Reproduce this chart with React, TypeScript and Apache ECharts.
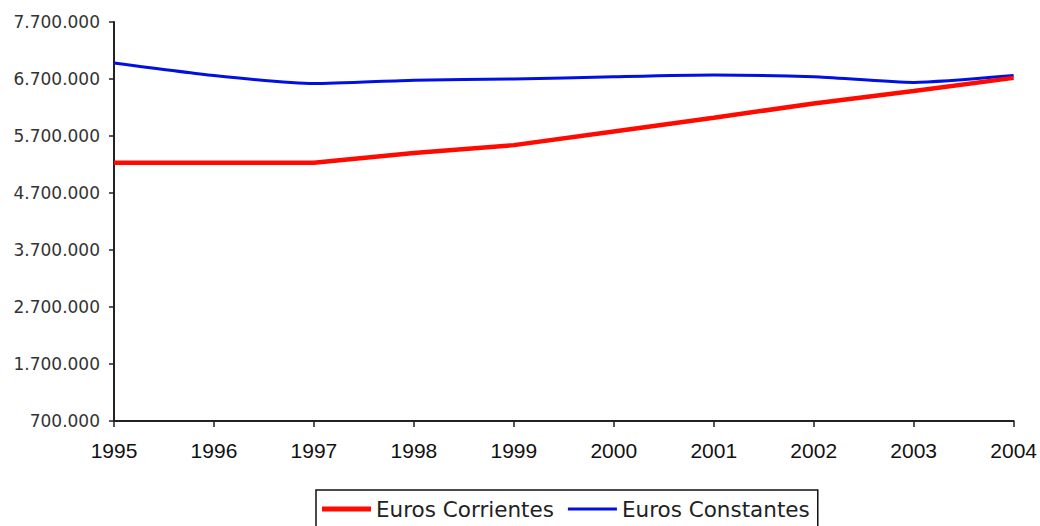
import React, { useEffect, useRef } from "react";
import * as echarts from "echarts";

const years = ["1995", "1996", "1997", "1998", "1999", "2000", "2001", "2002", "2003", "2004"];
const eurosCorrientes = [5230000, 5230000, 5230000, 5400000, 5540000, 5780000, 6020000, 6270000, 6490000, 6720000];
const eurosConstantes = [6980000, 6760000, 6620000, 6680000, 6700000, 6740000, 6770000, 6740000, 6640000, 6760000];
const yTicks = [700000, 1700000, 2700000, 3700000, 4700000, 5700000, 6700000, 7700000];

const fmt = (v: number) => String(Math.round(v)).replace(/\B(?=(\d{3})+(?!\d))/g, ".");

export default function App() {
  const ref = useRef<HTMLDivElement>(null);
  useEffect(() => {
    document.body.style.margin = "0";
    const chart = echarts.init(ref.current!, null, { renderer: "svg" });
    chart.setOption({
      animation: false,
      backgroundColor: "#ffffff",
      grid: { left: 114, right: 25, top: 22, bottom: 105 },
      legend: {
        left: 316,
        top: 490,
        itemWidth: 49,
        itemHeight: 14,
        itemGap: 14,
        symbolKeepAspect: true,
        padding: [8, 8, 20, 6],
        borderColor: "#111",
        borderWidth: 1.5,
        textStyle: { fontFamily: "DejaVu Sans", fontSize: 21.5, color: "#222" },
        data: [
          { name: "Euros Corrientes", icon: "path://M0,0H49V5H0Z", itemStyle: { color: "#ff0a00" } },
          { name: "Euros Constantes", icon: "path://M0,0H49V3H0Z", itemStyle: { color: "#0010e0" } },
        ],
      },
      xAxis: {
        type: "category",
        data: years,
        boundaryGap: false,
        axisLine: { lineStyle: { color: "#222", width: 2 } },
        axisTick: { alignWithLabel: true, length: 6, lineStyle: { color: "#222", width: 1.5 } },
        axisLabel: {
          interval: 0,
          margin: 19,
          fontFamily: "Liberation Sans, Arial",
          fontSize: 21,
          color: "#111",
        },
        splitLine: { show: false },
      },
      yAxis: {
        type: "value",
        min: 700000,
        max: 7700000,
        axisLine: { show: true, lineStyle: { color: "#222", width: 2 } },
        axisTick: { show: true, length: 5, customValues: yTicks, lineStyle: { color: "#222", width: 1.5 } },
        axisLabel: {
          customValues: yTicks,
          margin: 14,
          formatter: (v: number) => fmt(v),
          fontFamily: "DejaVu Sans, Verdana",
          fontSize: 17,
          color: "#333",
        },
        splitLine: { show: false },
      },
      series: [
        {
          name: "Euros Corrientes",
          type: "line",
          data: eurosCorrientes,
          symbol: "none",
          lineStyle: { color: "#ff0a00", width: 4.5 },
          itemStyle: { color: "#ff0a00" },
          z: 3,
        },
        {
          name: "Euros Constantes",
          type: "line",
          data: eurosConstantes,
          symbol: "none",
          smooth: 0.2,
          lineStyle: { color: "#0010e0", width: 3 },
          itemStyle: { color: "#0010e0" },
          z: 2,
        },
      ],
    });
    return () => chart.dispose();
  }, []);
  return <div ref={ref} style={{ width: 1040, height: 526 }} />;
}
